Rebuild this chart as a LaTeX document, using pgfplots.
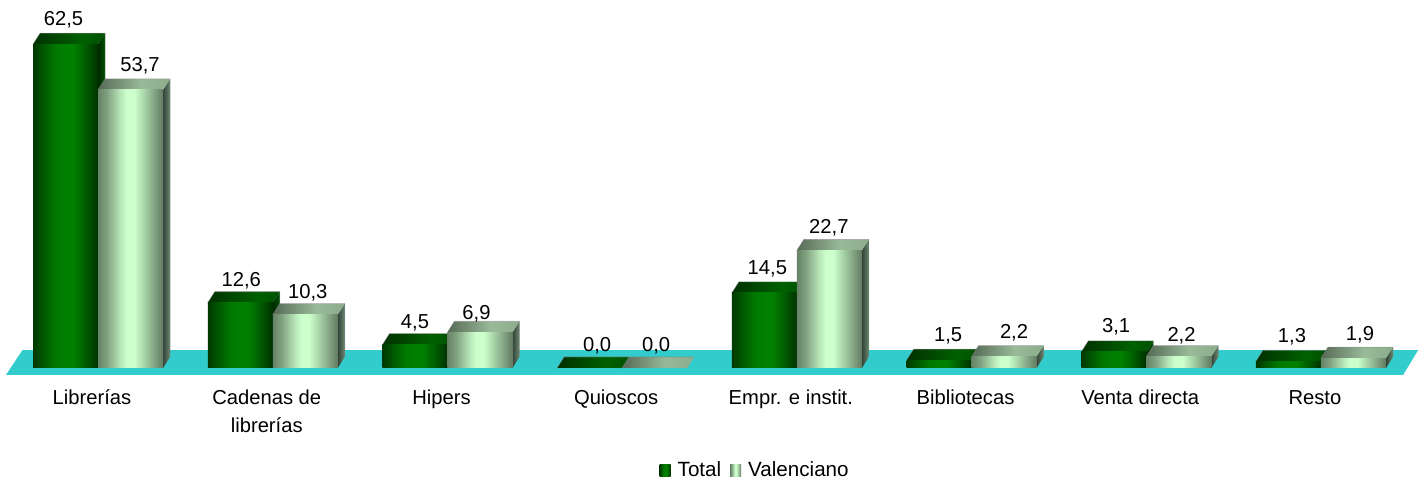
\documentclass[border=0pt]{standalone}
\usepackage{fontspec}
\setmainfont{Liberation Sans}
\usepackage{pgfplots}
\usepackage{pgfplotstable}
\pgfplotsset{compat=1.18}

% scale: 1 px of the reference = 0.5pt
\definecolor{floorc}{HTML}{33CCCC}

% a named shading maps the bar's width onto 25bp..75bp
\pgfdeclarehorizontalshading{tface}{100bp}{rgb(0bp)=(0,0.22,0);rgb(25bp)=(0,0.22,0);rgb(32bp)=(0,0.33,0);rgb(42bp)=(0,0.47,0);rgb(50bp)=(0,0.5,0);rgb(56bp)=(0,0.5,0);rgb(66bp)=(0,0.35,0);rgb(75bp)=(0,0.19,0);rgb(100bp)=(0,0.19,0)}
\pgfdeclarehorizontalshading{vface}{100bp}{rgb(0bp)=(0.4,0.51,0.4);rgb(25bp)=(0.4,0.51,0.4);rgb(32bp)=(0.51,0.64,0.51);rgb(42bp)=(0.72,0.9,0.72);rgb(47bp)=(0.8,1,0.8);rgb(53bp)=(0.8,1,0.8);rgb(62bp)=(0.63,0.79,0.63);rgb(75bp)=(0.385,0.48,0.385);rgb(100bp)=(0.385,0.48,0.385)}
\pgfdeclarehorizontalshading{ttop}{100bp}{rgb(0bp)=(0,0.19,0);rgb(25bp)=(0,0.19,0);rgb(60bp)=(0,0.38,0);rgb(75bp)=(0,0.31,0);rgb(100bp)=(0,0.31,0)}
\pgfdeclarehorizontalshading{vtop}{100bp}{rgb(0bp)=(0.34,0.415,0.34);rgb(25bp)=(0.34,0.415,0.34);rgb(55bp)=(0.6,0.73,0.6);rgb(75bp)=(0.55,0.675,0.55);rgb(100bp)=(0.55,0.675,0.55)}
\pgfdeclarehorizontalshading{tside}{100bp}{rgb(0bp)=(0,0.16,0);rgb(25bp)=(0,0.16,0);rgb(75bp)=(0,0.33,0);rgb(100bp)=(0,0.33,0)}
\pgfdeclarehorizontalshading{vside}{100bp}{rgb(0bp)=(0.2,0.26,0.22);rgb(25bp)=(0.2,0.26,0.22);rgb(75bp)=(0.42,0.54,0.44);rgb(100bp)=(0.42,0.54,0.44)}

% one 3D bar, drawn at its front top centre; \barval is the value
\newlength\barh
\newcommand\threedbar[3]{%
  \pgfmathsetlength\barh{\barval*2.59pt}%
  \ifdim\barh>0.1pt
    \shade[shading=#3,draw=none] (16.25pt,0pt) -- (19.75pt,5.5pt) -- (19.75pt,5.5pt-\barh) -- (16.25pt,-\barh) -- cycle;%
  \fi
  \shade[shading=#2,draw=none] (-16.25pt,0pt) -- (16.25pt,0pt) -- (19.75pt,5.5pt) -- (-12.75pt,5.5pt) -- cycle;%
  \draw[gray,opacity=0.6,line width=0.3pt] (-16.25pt,0pt) -- (-12.75pt,5.5pt) -- (19.75pt,5.5pt) -- (19.75pt,5.5pt-\barh);%
  \ifdim\barh>0.1pt
    \shade[shading=#1,draw=none] (-16.25pt,-\barh) rectangle (16.25pt,0pt);%
  \fi}
\pgfdeclareplotmark{bart}{\threedbar{tface}{ttop}{tside}}
\pgfdeclareplotmark{barv}{\threedbar{vface}{vtop}{vside}}

% x, values, then label offsets (pt) from the front top centre of each bar
\pgfplotstableread{
x total valen tdx tdy vdx vdy
0 62.5 53.7 -0.75 9.5 5 9
1 12.6 10.3 0.75 8 1.5 8
2 4.5 6.9 0.25 8 -1.5 6.5
3 0.0 0.0 4 8 1 8
4 14.5 22.7 1.75 9 0 8.5
5 1.5 2.2 4.75 9.5 5.25 8.8
6 3.1 2.2 1.4 9.5 1.65 7.8
7 1.3 1.9 2 9.2 3.5 8.6
}\bardata

\begin{document}
\begin{tikzpicture}
\path[use as bounding box] (0,0) rectangle (712.5pt,242.5pt);
\begin{axis}[
    at={(3pt,55pt)},
    anchor=south west,
    x=87.35pt,
    y=2.59pt,
    xmin=-0.524,
    xmax=7.559,
    ymin=-1.35,
    ymax=71.04,
    clip=false,
    axis line style={draw=none},
    tick style={draw=none},
    ytick=\empty,
    xtick={0,...,7},
    xticklabels={\strut Librerías,\strut Cadenas de\\librerías,\strut Hipers,\strut Quioscos,\strut Empr. e instit.,\strut Bibliotecas,\strut Venta directa,\strut Resto},
    xticklabel style={align=center,xshift=-2.75pt,yshift=-1.5pt,font=\fontsize{10.1}{14}\selectfont},
    legend style={
        at={(axis cs:3.77,-19.7)},
        anchor=center,
        draw=none,
        fill=none,
        inner sep=0pt,
        font=\fontsize{10.3}{12}\selectfont,
        legend columns=2,
        /tikz/every even column/.append style={column sep=2.5pt}
    },
    legend cell align=left
]

% floor
\addplot[fill=floorc,draw=none,forget plot] coordinates {
(-0.524,-1.35) (-0.4295,3.47) (7.559,3.47) (7.473,-1.35)
} --cycle;

\addplot[only marks,scatter,mark=bart,forget plot,
    scatter/@pre marker code/.code={\begingroup},
    scatter/@post marker code/.code={\endgroup},
    visualization depends on={rawy \as \barval}]
    table[x expr=\coordindex-0.183,y=total] {\bardata};
\addplot[only marks,scatter,mark=barv,forget plot,
    scatter/@pre marker code/.code={\begingroup},
    scatter/@post marker code/.code={\endgroup},
    visualization depends on={rawy \as \barval}]
    table[x expr=\coordindex+0.189,y=valen] {\bardata};

% value labels
\pgfplotsset{
    value labels/.style={
        only marks,mark=none,forget plot,point meta=y,
        nodes near coords={\pgfmathprintnumber[fixed,fixed zerofill,precision=1,use comma,assume math mode=true]{\pgfplotspointmeta}},
        every node near coord/.style={anchor=base,inner sep=0pt,font=\fontsize{10.1}{12}\selectfont,xshift=\ldx pt,yshift=\ldy pt}
    }
}
\addplot[value labels,
    visualization depends on={\thisrow{tdx} \as \ldx},
    visualization depends on={\thisrow{tdy} \as \ldy}]
    table[x expr=\coordindex-0.186,y=total] {\bardata};
\addplot[value labels,
    visualization depends on={\thisrow{vdx} \as \ldx},
    visualization depends on={\thisrow{vdy} \as \ldy}]
    table[x expr=\coordindex+0.186,y=valen] {\bardata};

% legend
\addlegendimage{legend image code/.code={\path[draw=none] (0pt,0pt) -- (7pt,0pt);\shade[shading=tface,draw=none] (0pt,-3pt) rectangle (5.5pt,3pt);}}
\addlegendentry{Total}
\addlegendimage{legend image code/.code={\path[draw=none] (0pt,0pt) -- (7pt,0pt);\shade[shading=vface,draw=none] (0pt,-3pt) rectangle (5.5pt,3pt);}}
\addlegendentry{Valenciano}

\end{axis}
\end{tikzpicture}
\end{document}
